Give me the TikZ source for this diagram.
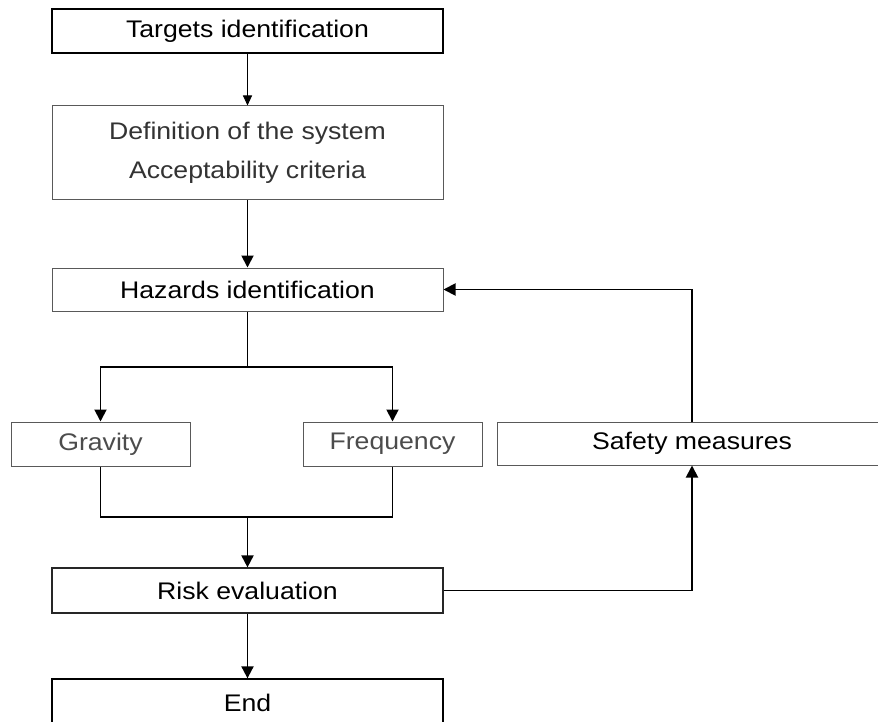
\documentclass[tikz,border=0pt]{standalone}
\usepackage{fontspec}
\setmainfont{Liberation Sans}
\usetikzlibrary{arrows.meta}
\newcommand{\wtext}[1]{\scalebox{1.11}[1]{#1}}
\begin{document}
\begin{tikzpicture}[x=1pt,y=-1pt,
  box/.style={rectangle, draw=black!65, line width=1pt, inner sep=0pt,
    minimum width=391pt, font=\fontsize{24}{28}\selectfont},
  darkbox/.style={box, draw=black, line width=1.5pt},
  smallbox/.style={box, minimum width=179pt, text=black!70},
  conn/.style={draw=black, line width=1.9pt, -{Triangle[length=12pt,width=12pt]}},
  thinconn/.style={draw=black, line width=0.9pt, -{Triangle[length=10pt,width=9pt]}},
  plain/.style={draw=black, line width=1.9pt}]
\useasboundingbox (0,0) rectangle (878,722);
\clip (0,0) rectangle (878,722);
\fill[white] (0,0) rectangle (878,722);

\node[darkbox, minimum height=44pt] (tgt) at (247.5,31) {\wtext{Targets identification}};
\node[box, minimum height=94pt, align=center, text=black!80] (def) at (247.5,153)
  {\wtext{Definition of the system}\\[11pt]\wtext{Acceptability criteria}};
\node[box, minimum height=43pt] (haz) at (247.5,289.5) {\wtext{Hazards identification}};
\node[smallbox, minimum height=44pt] (grav) at (100.5,444) {\wtext{Gravity}};
\node[smallbox, minimum height=44pt] (freq) at (392.5,444) {\wtext{Frequency}};
\node[box, minimum width=390pt, minimum height=43pt] (safe) at (692,443.5) {\wtext{Safety measures}};
\node[box, draw=black!85, line width=1.2pt, minimum height=45pt] (risk) at (247.5,590.5) {\wtext{Risk evaluation}};
\node[rectangle, draw=black, line width=1.3pt, inner sep=0pt, minimum width=391pt,
  text height=32pt, text depth=40pt, anchor=base, font=\fontsize{24}{28}\selectfont]
  (endn) at (247.5,711) {\wtext{End}};

\coordinate (split) at (247.5,367);
\coordinate (merge) at (247.5,517);

\draw[thinconn] (tgt.south) -- (def.north);
\draw[conn] (def.south) -- (haz.north);
\draw[plain] (haz.south) -- (split);
\draw[conn] (split) -| (grav.north);
\draw[conn] (split) -| (freq.north);
\draw[plain] (grav.south) |- (merge);
\draw[plain] (freq.south) |- (merge);
\draw[conn] (merge) -- (risk.north);
\draw[conn] (risk.east) -| (safe.south);
\draw[conn] (safe.north) |- (haz.east);
\draw[conn] (risk.south) -- (endn.north);
\end{tikzpicture}
\end{document}
